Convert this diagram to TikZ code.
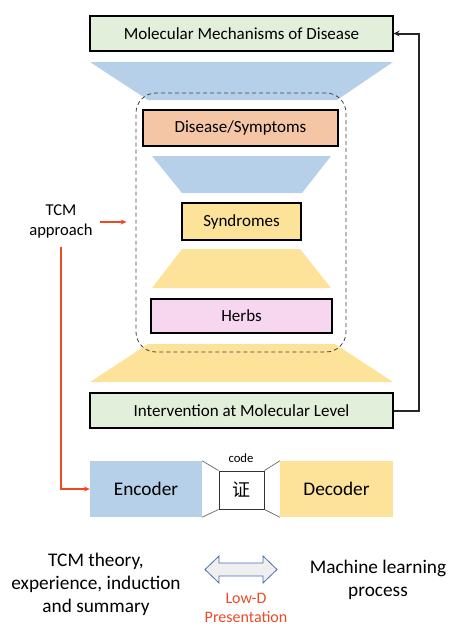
\documentclass[tikz,border=0pt]{standalone}
\usepackage{fontspec}
\setmainfont{Carlito}
\newfontfamily\cjk{Noto Sans CJK SC}
\usetikzlibrary{arrows.meta}
\definecolor{boxgreen}{HTML}{E2EFDA}
\definecolor{boxpeach}{HTML}{F4C6A6}
\definecolor{boxyellow}{HTML}{FDE29A}
\definecolor{boxpink}{HTML}{F7D6F0}
\definecolor{trblue}{HTML}{B7D0E9}
\definecolor{tryellow}{HTML}{FDE29A}
\definecolor{tcmred}{HTML}{EC4A27}
\definecolor{arrblue}{HTML}{4A6FB0}
\definecolor{arrfill}{HTML}{EFEFEF}
\tikzset{
  lbox/.style={draw=black, line width=1.2pt, inner sep=0pt, font=\fontsize{17}{20}\selectfont},
  fbox/.style={inner sep=0pt, font=\fontsize{19.3}{23}\selectfont},
  redarr/.style={draw=tcmred, line width=1.2pt, -{Stealth[length=6pt,width=5pt]}},
  graylink/.style={draw=gray!80!black, line width=0.7pt},
  bigtext/.style={align=center, inner sep=0pt, font=\fontsize{19.3}{23}\selectfont},
}
\begin{document}
\begin{tikzpicture}[x=1pt,y=-1pt]
\useasboundingbox (0,0) rectangle (448,627);
% trapezoids
\fill[trblue] (90,62) -- (393,62) -- (337,100) -- (148,100) -- cycle;
\fill[trblue] (152,156) -- (331,156) -- (302,193) -- (182,193) -- cycle;
\fill[tryellow] (182,249) -- (300,249) -- (331,288) -- (152,288) -- cycle;
\fill[tryellow] (148,344) -- (335,344) -- (393,382) -- (90,382) -- cycle;
% boxes
\node[lbox, fill=boxgreen, minimum width=303, minimum height=35] (mech) at (241.5,33.5) {Molecular Mechanisms of Disease};
\node[lbox, fill=boxpeach, minimum width=195, minimum height=36] (dis) at (240.5,128) {Disease/Symptoms};
\node[lbox, fill=boxyellow, minimum width=119, minimum height=37] (syn) at (241.5,221.5) {Syndromes};
\node[lbox, fill=boxpink, minimum width=181, minimum height=34] (herb) at (241.5,316) {Herbs};
\node[lbox, fill=boxgreen, minimum width=303, minimum height=35] (inter) at (241.5,410.5) {Intervention at Molecular Level};
\node[draw=black!75, line width=0.8pt, dash pattern=on 4pt off 3pt, rounded corners=20pt, minimum width=210, minimum height=259, inner sep=0pt] (dashbox) at (241,222.5) {};
% feedback connector
\draw[line width=2pt, black!85, -{Stealth[length=6pt,width=6pt]}] (inter.east) -- ++(25,0) |- (mech.east);
% TCM approach
\node[align=center, inner sep=0pt, font=\fontsize{16.6}{20}\selectfont] (tcm) at (61,221) {TCM\\approach};
\draw[redarr] ([xshift=7pt,yshift=-1pt]tcm.east) -- ([xshift=-9pt,yshift=-1pt]tcm.east -| dashbox.west);
% autoencoder
\node[fbox, fill=trblue, minimum width=112, minimum height=56] (enc) at (146,489) {Encoder};
\node[fbox, fill=tryellow, minimum width=113, minimum height=56] (dec) at (336.5,489) {Decoder};
\node[draw=black!80, line width=0.9pt, inner sep=0pt, minimum width=45, minimum height=38, font=\cjk\fontsize{18}{20}\selectfont] (code) at (241.5,490) {证};
\node[inner sep=0pt, font=\fontsize{12.7}{14}\selectfont] (codelbl) at (241,458) {code};
\draw[graylink] (enc.north east) -- (code.north west);
\draw[graylink] (enc.south east) -- (code.south west);
\draw[graylink] (code.north east) -- (dec.north west);
\draw[graylink] (code.south east) -- (dec.south west);
\draw[redarr] ([yshift=-9pt]tcm.south) |- (enc.west);
% bottom texts
\node[bigtext] (theory) at (96,584) {TCM theory,\\experience, induction\\and summary};
\node[bigtext] (ml) at (378,580) {Machine learning\\process};
\node[align=center, inner sep=0pt, text=tcmred, font=\fontsize{16}{18.5}\selectfont] (lowd) at (246,608) {Low-D\\Presentation};
\draw[draw=arrblue, fill=arrfill, line width=0.8pt] (205,569.5) -- (219,556) -- (219,563) -- (263,563) -- (263,556) -- (277,569.5) -- (263,583) -- (263,576) -- (219,576) -- (219,583) -- cycle;
\end{tikzpicture}
\end{document}
